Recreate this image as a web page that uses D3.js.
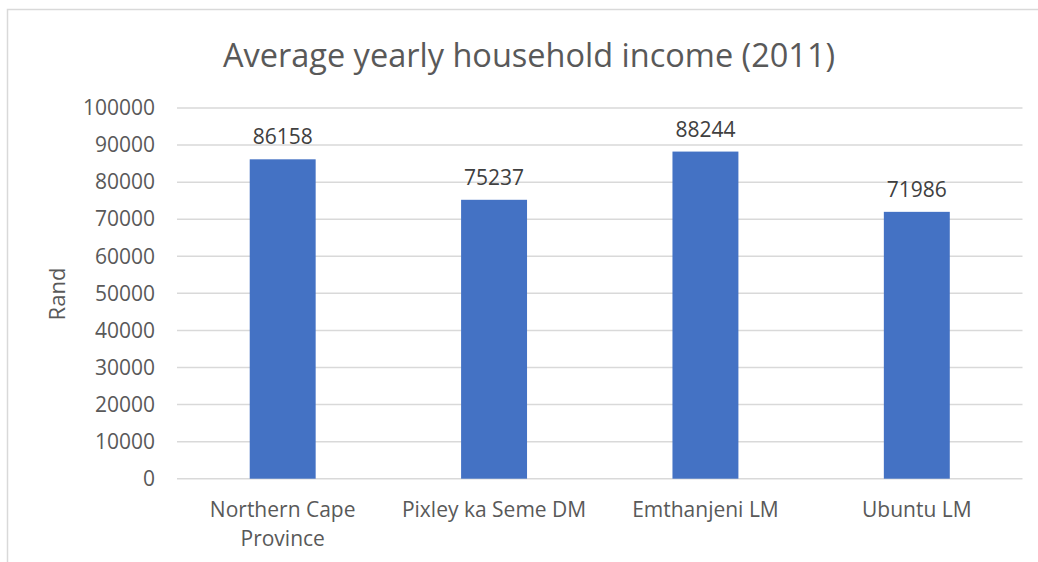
<!DOCTYPE html>
<html>
<head>
<meta charset="utf-8">
<script src="https://cdn.jsdelivr.net/npm/d3@7"></script>
<style>
  body { margin: 0; background: #fff; }
  svg { display: block; }
</style>
</head>
<body>
<svg id="svg" width="1038" height="562"></svg>
<script>
const svg = d3.select("#svg");

const categories = ["Northern Cape Province", "Pixley ka Seme DM", "Emthanjeni LM", "Ubuntu LM"];
const incomes = [86158, 75237, 88244, 71986];
const yTicks = [0, 10000, 20000, 30000, 40000, 50000, 60000, 70000, 80000, 90000, 100000];

const font = "'Open Sans', sans-serif";
const textColor = "#595959";

// chart frame, cropped on the right and bottom like the original
svg.append("rect")
  .attr("x", 7.5)
  .attr("y", 9.5)
  .attr("width", 1200)
  .attr("height", 700)
  .attr("fill", "white")
  .attr("stroke", "#d9d9d9")
  .attr("stroke-width", 1.5);

const x = d3.scaleBand()
  .domain(categories)
  .range([177, 1022.5])
  .paddingInner(0.688)
  .paddingOuter(0.344);

const y = d3.scaleLinear()
  .domain([0, 100000])
  .range([478.7, 108]);

// gridlines
svg.append("g")
  .selectAll("line")
  .data(yTicks)
  .join("line")
  .attr("x1", 177)
  .attr("x2", 1022.5)
  .attr("y1", (d) => y(d))
  .attr("y2", (d) => y(d))
  .attr("stroke", "#d9d9d9")
  .attr("stroke-width", 1.5);

// y axis labels
const yAxis = svg.append("g")
  .attr("transform", "translate(177,0)")
  .call(d3.axisLeft(y).tickValues(yTicks).tickSize(0).tickPadding(22).tickFormat(d3.format("d")));
yAxis.select(".domain").remove();
yAxis.selectAll("text")
  .style("font-family", font)
  .style("font-size", "21px")
  .attr("fill", textColor);

// bars
svg.append("g")
  .selectAll("rect")
  .data(incomes)
  .join("rect")
  .attr("x", (d, i) => x(categories[i]))
  .attr("width", x.bandwidth())
  .attr("y", (d) => y(d))
  .attr("height", (d) => y(0) - y(d))
  .attr("fill", "#4472c4");

// value labels
svg.append("g")
  .selectAll("text")
  .data(incomes)
  .join("text")
  .attr("x", (d, i) => x(categories[i]) + x.bandwidth() / 2)
  .attr("y", (d) => y(d) - 15)
  .attr("text-anchor", "middle")
  .style("font-family", font)
  .style("font-size", "21px")
  .attr("fill", "#404040")
  .text((d) => d);

// category labels, wrapped like the original
const catLines = {
  "Northern Cape Province": ["Northern Cape", "Province"],
};
svg.append("g")
  .selectAll("text")
  .data(categories)
  .join("text")
  .attr("x", (d) => x(d) + x.bandwidth() / 2)
  .attr("y", 517)
  .attr("text-anchor", "middle")
  .style("font-family", font)
  .style("font-size", "21px")
  .attr("fill", textColor)
  .selectAll("tspan")
  .data((d) => catLines[d] || [d])
  .join("tspan")
  .attr("x", function () { return this.parentNode.getAttribute("x"); })
  .attr("dy", (d, i) => (i ? 28.5 : 0))
  .text((d) => d);

// y axis title
svg.append("text")
  .attr("transform", "translate(65,294) rotate(-90)")
  .attr("text-anchor", "middle")
  .style("font-family", font)
  .style("font-size", "22px")
  .attr("fill", textColor)
  .text("Rand");

// chart title
svg.append("text")
  .attr("x", 529)
  .attr("y", 67)
  .attr("text-anchor", "middle")
  .style("font-family", font)
  .style("font-size", "32.5px")
  .attr("fill", textColor)
  .text("Average yearly household income (2011)");
</script>
</body>
</html>
